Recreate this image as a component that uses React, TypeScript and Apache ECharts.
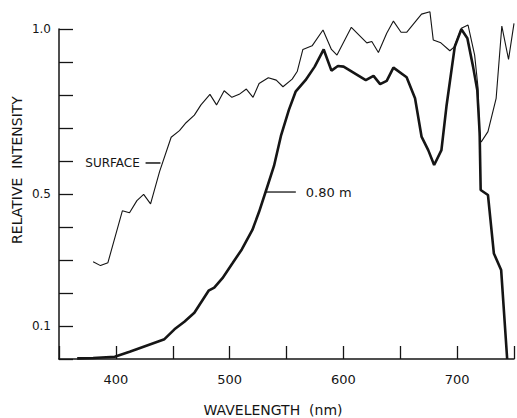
import React, { useEffect, useRef } from "react";
import * as echarts from "echarts";

const xTitle = "WAVELENGTH  (nm)";
const yTitle = "RELATIVE  INTENSITY";
const yLabelValues = [0.1, 0.5, 1.0];

const surfaceNm = [380, 386.5, 393, 405.7, 412, 418.5, 424.4, 430.5, 438.4, 448.6, 455.9, 461.7, 469, 474.8, 482.7, 488.5, 495.2, 502, 508.4, 514.7, 520.6, 525.9, 534, 541, 546.9, 555, 559.4, 564.4, 572.5, 582.1, 589.5, 594.4, 607, 620.6, 625, 630.8, 638.1, 644, 650.7, 655.6, 668.7, 676.1, 679, 685.7, 693.6, 697.3, 703.7, 709.6, 715.4, 718.3, 719.8, 721.2, 727.1, 734.3, 739.3, 745.2, 750];
const surfaceVal = [0.295, 0.283, 0.292, 0.449, 0.443, 0.48, 0.499, 0.47, 0.568, 0.672, 0.692, 0.716, 0.739, 0.77, 0.802, 0.77, 0.813, 0.793, 0.802, 0.818, 0.793, 0.835, 0.852, 0.845, 0.825, 0.848, 0.871, 0.938, 0.949, 0.997, 0.938, 0.921, 1.005, 0.958, 0.962, 0.929, 0.987, 1.024, 0.99, 0.99, 1.045, 1.052, 0.967, 0.958, 0.934, 0.945, 1.002, 1.012, 0.921, 0.825, 0.664, 0.658, 0.689, 0.79, 1.009, 0.908, 1.017];

const depthNm = [366, 380, 399, 412.1, 442.7, 451.5, 460.2, 469, 481.5, 486.5, 493.7, 502.5, 510.7, 520, 525.9, 533.1, 539, 545.1, 552.1, 558, 566.7, 574.8, 582.7, 589.5, 595.2, 600.2, 619.7, 626.5, 632.3, 638.1, 644, 655.6, 663, 668.7, 674.6, 679.8, 686.2, 690.6, 697.9, 703.7, 709, 714, 717.7, 719.8, 720.7, 727.1, 732.3, 738.7, 744];
const depthVal = [0.002, 0.003, 0.007, 0.022, 0.06, 0.09, 0.113, 0.14, 0.207, 0.216, 0.245, 0.29, 0.332, 0.391, 0.446, 0.522, 0.585, 0.676, 0.755, 0.81, 0.845, 0.886, 0.938, 0.874, 0.888, 0.886, 0.845, 0.858, 0.833, 0.843, 0.883, 0.854, 0.79, 0.674, 0.633, 0.588, 0.633, 0.765, 0.946, 0.999, 0.972, 0.886, 0.815, 0.685, 0.512, 0.497, 0.32, 0.27, 0.0];

// annotation anchors (data space)
const surfaceLabel = { text: "SURFACE", lineFrom: [426.1, 0.594], lineTo: [439.2, 0.594], textAt: [421, 0.594] };
const depthLabel = { text: "0.80 m", lineFrom: [531.1, 0.506], lineTo: [558.2, 0.506], textAt: [567, 0.506] };

const INK = "#151515";
const FONT = "DejaVu Sans";

export default function App() {
  const ref = useRef<HTMLDivElement>(null);
  useEffect(() => {
    document.body.style.margin = "0";
    const chart = echarts.init(ref.current!, null, { renderer: "svg" });
    chart.setOption({
      animation: false,
      backgroundColor: "#ffffff",
      grid: { left: 59, right: 2, top: 29, bottom: 59 },
      xAxis: {
        type: "value",
        min: 350,
        max: 750,
        interval: 50,
        axisLine: { lineStyle: { color: INK, width: 1.5 } },
        axisTick: { inside: true, length: 13, lineStyle: { color: INK, width: 1.3 } },
        axisLabel: {
          margin: 14,
          color: INK,
          fontFamily: FONT,
          fontSize: 13,
          formatter: (v: number) => (Math.round(v) % 100 === 0 ? String(Math.round(v)) : ""),
        },
        splitLine: { show: false },
      },
      yAxis: {
        type: "value",
        min: 0,
        max: 1.0,
        interval: 0.1,
        axisLine: { show: true, lineStyle: { color: INK, width: 1.5 } },
        axisTick: { show: true, inside: true, length: 14, lineStyle: { color: INK, width: 1.3 } },
        axisLabel: {
          margin: 8,
          color: INK,
          fontFamily: FONT,
          fontSize: 12,
          formatter: (v: number) =>
            yLabelValues.some((t) => Math.abs(t - v) < 1e-6) ? v.toFixed(1) : "",
        },
        splitLine: { show: false },
      },
      series: [
        {
          name: "SURFACE",
          type: "line",
          data: surfaceNm.map((x, i) => [x, surfaceVal[i]]),
          showSymbol: false,
          symbol: "none",
          clip: false,
          lineStyle: { color: INK, width: 1.1 },
        },
        {
          name: "0.80 m",
          type: "line",
          data: depthNm.map((x, i) => [x, depthVal[i]]),
          showSymbol: false,
          symbol: "none",
          clip: false,
          lineStyle: { color: INK, width: 2.6 },
        },
      ],
    });

    const px = (p: number[]) => chart.convertToPixel({ gridIndex: 0 }, p) as number[];
    const sA = px(surfaceLabel.lineFrom), sB = px(surfaceLabel.lineTo), sT = px(surfaceLabel.textAt);
    const dA = px(depthLabel.lineFrom), dB = px(depthLabel.lineTo), dT = px(depthLabel.textAt);
    chart.setOption({
      graphic: [
        { type: "line", shape: { x1: sA[0], y1: sA[1], x2: sB[0], y2: sB[1] }, style: { stroke: INK, lineWidth: 1.5 } },
        { type: "text", x: sT[0], y: sT[1], style: { text: surfaceLabel.text, fill: INK, font: `12px "${FONT}"`, align: "right", verticalAlign: "middle" } },
        { type: "line", shape: { x1: dA[0], y1: dA[1], x2: dB[0], y2: dB[1] }, style: { stroke: INK, lineWidth: 1.3 } },
        { type: "text", x: dT[0], y: dT[1], style: { text: depthLabel.text, fill: INK, font: `13px "${FONT}"`, align: "left", verticalAlign: "middle" } },
        { type: "text", x: 273, y: 410, style: { text: xTitle, fill: INK, font: `14px "${FONT}"`, align: "center", verticalAlign: "middle" } },
        { type: "text", x: 17, y: 170, rotation: Math.PI / 2, style: { text: yTitle, fill: INK, font: `14px "${FONT}"`, align: "center", verticalAlign: "middle" } },
      ],
    });
    return () => chart.dispose();
  }, []);
  return <div ref={ref} style={{ width: 517, height: 418 }} />;
}
